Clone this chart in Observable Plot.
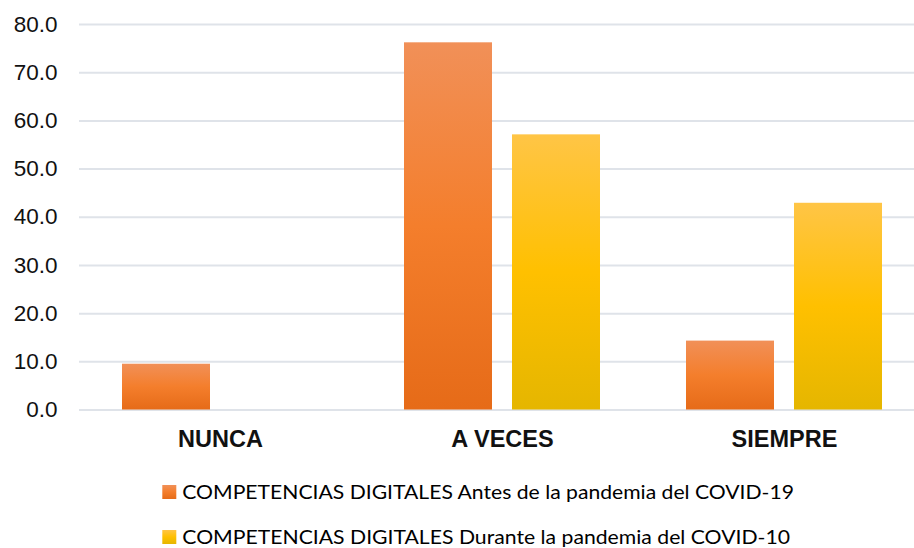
<!DOCTYPE html>
<html>
<head>
<meta charset="utf-8">
<script src="https://cdn.jsdelivr.net/npm/d3@7"></script>
<script src="https://cdn.jsdelivr.net/npm/@observablehq/plot@0.6"></script>
<style>
  html, body { margin: 0; padding: 0; background: #fff; }
  #wrap { width: 914px; height: 548px; position: relative; overflow: hidden; }
  #wrap svg { display: block; }
</style>
</head>
<body>
<div id="wrap"></div>
<script>
const categories = ["NUNCA", "A VECES", "SIEMPRE"];
const seriesNames = [
  "COMPETENCIAS DIGITALES Antes de la pandemia del COVID-19",
  "COMPETENCIAS DIGITALES Durante la pandemia del COVID-10"
];
const antes = [9.5, 76.2, 14.3];
const durante = [0.0, 57.1, 42.9];
const yTicks = [0, 10, 20, 30, 40, 50, 60, 70, 80];

const data = categories.flatMap((c, i) => [
  {cat: c, serie: seriesNames[0], value: antes[i]},
  {cat: c, serie: seriesNames[1], value: durante[i]}
]);

const chart = Plot.plot({
  width: 914,
  height: 460,
  marginLeft: 79,
  marginRight: -11,
  marginTop: 24,
  marginBottom: 50.5,
  style: {fontFamily: "'Liberation Sans', Arial, sans-serif", background: "white", color: "#111"},
  fx: {domain: categories, padding: 0, label: null},
  x: {domain: seriesNames, paddingInner: 0.185, paddingOuter: 0.398, axis: null},
  y: {domain: [0, 80]},
  marks: [
    Plot.ruleY(yTicks, {stroke: "#dfe3e9", strokeWidth: 2}),
    Plot.barY(data.filter(d => d.serie === seriesNames[0]), {fx: "cat", x: "serie", y: "value", fill: "url(#gOrange)"}),
    Plot.barY(data.filter(d => d.serie === seriesNames[1]), {fx: "cat", x: "serie", y: "value", fill: "url(#gYellow)"}),
    Plot.axisY({ticks: yTicks, tickFormat: d => d.toFixed(1), tickSize: 0, tickPadding: 22, fontSize: 22.5, fontWeight: "normal", label: null}),
    Plot.axisFx({anchor: "bottom", tickSize: 0, tickPadding: 20.5, fontSize: 23.5, fontWeight: "bold", label: null})
  ]
});

const defs = d3.select(chart).insert("defs", ":first-child");
function grad(id, stops) {
  const g = defs.append("linearGradient").attr("id", id).attr("x1", 0).attr("y1", 0).attr("x2", 0).attr("y2", 1);
  stops.forEach(([o, c]) => g.append("stop").attr("offset", o).attr("stop-color", c));
}
grad("gOrange", [[0, "#f19058"], [0.5, "#f47e2c"], [1, "#e66b18"]]);
grad("gYellow", [[0, "#ffc546"], [0.5, "#ffc000"], [1, "#e5b600"]]);

const wrap = document.getElementById("wrap");
wrap.appendChild(chart);

// Legend below the chart
const legend = d3.create("svg").attr("width", 914).attr("height", 88)
  .style("font-family", "Lato, 'Open Sans', sans-serif");
const rows = [
  {name: seriesNames[0], fill: "url(#gOrange)", ry: 25, ty: 39.3, len: 611.7},
  {name: seriesNames[1], fill: "url(#gYellow)", ry: 70, ty: 84, len: 607.7}
];
rows.forEach(r => {
  legend.append("rect").attr("x", 162.3).attr("y", r.ry).attr("width", 14).attr("height", 14).attr("fill", r.fill);
  legend.append("text").attr("x", 182.3).attr("y", r.ty).attr("font-size", 20)
    .attr("fill", "#000").attr("textLength", r.len).attr("lengthAdjust", "spacingAndGlyphs").text(r.name);
});
wrap.appendChild(legend.node());
</script>
</body>
</html>
